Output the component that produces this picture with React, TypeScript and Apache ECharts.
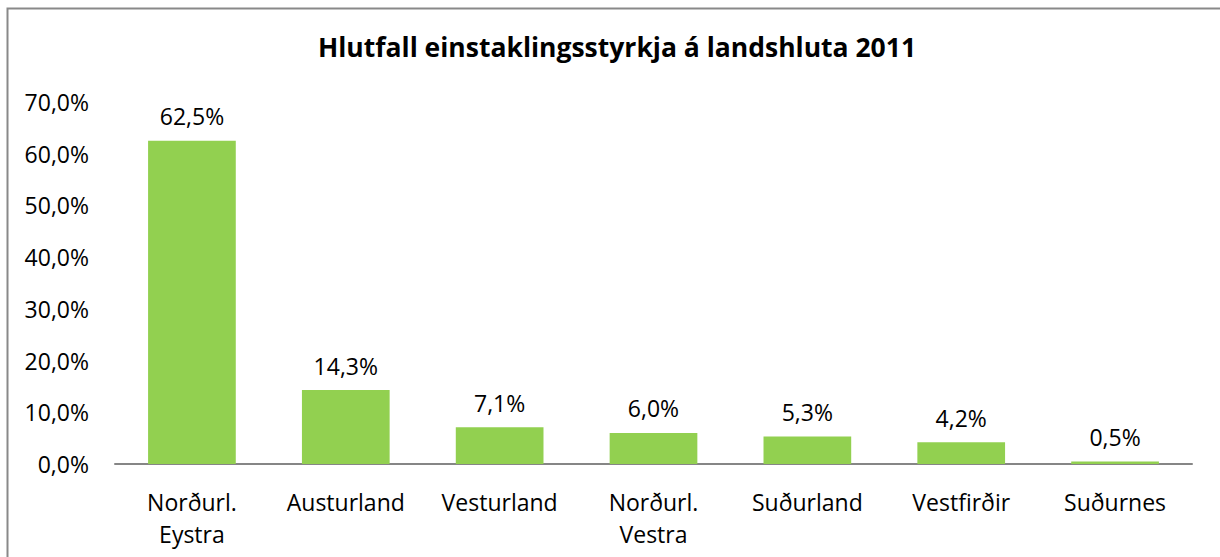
import React, { useEffect, useRef } from "react";
import * as echarts from "echarts";

const title = "Hlutfall einstaklingsstyrkja á landshluta 2011";
const categories = ["Norðurl.\nEystra", "Austurland", "Vesturland", "Norðurl.\nVestra", "Suðurland", "Vestfirðir", "Suðurnes"];
const values = [62.5, 14.3, 7.1, 6.0, 5.3, 4.2, 0.5];
const yTicks = [0, 10, 20, 30, 40, 50, 60, 70];

const fmt = (v: number) => v.toFixed(1).replace(".", ",") + "%";
const FONT = "'Open Sans', sans-serif";

export default function App() {
  const ref = useRef<HTMLDivElement>(null);
  useEffect(() => {
    document.body.style.margin = "0";
    const chart = echarts.init(ref.current!, null, { renderer: "svg" });
    chart.setOption({
      animation: false,
      backgroundColor: "#ffffff",
      title: {
        text: title,
        left: 313,
        top: 28,
        textStyle: { fontFamily: FONT, fontWeight: "bold", fontSize: 26.5, color: "#000" },
      },
      graphic: [
        {
          type: "rect",
          shape: { x: 7.5, y: 8.5, width: 1230, height: 560 },
          style: { fill: "none", stroke: "#898989", lineWidth: 2 },
          silent: true,
        },
      ],
      grid: { left: 115, right: 28, top: 102, bottom: 93, containLabel: false },
      xAxis: {
        type: "category",
        data: categories,
        axisLine: { show: true, lineStyle: { color: "#868686", width: 2 } },
        axisTick: { show: false },
        axisLabel: {
          fontFamily: FONT,
          fontSize: 23,
          color: "#000",
          margin: 22,
          lineHeight: 32,
          interval: 0,
        },
      },
      yAxis: {
        type: "value",
        min: yTicks[0],
        max: yTicks[yTicks.length - 1],
        interval: 10,
        splitLine: { show: false },
        axisLine: { show: false },
        axisTick: { show: false },
        axisLabel: {
          fontFamily: FONT,
          fontSize: 23,
          color: "#000",
          margin: 26,
          formatter: (v: number) => fmt(v),
        },
      },
      series: [
        {
          type: "bar",
          data: values,
          barWidth: "57%",
          itemStyle: { color: "#92D050" },
          label: {
            show: true,
            position: "top",
            distance: 13,
            fontFamily: FONT,
            fontSize: 23,
            color: "#000",
            formatter: (p: any) => fmt(p.value),
          },
        },
      ],
    });
    return () => chart.dispose();
  }, []);
  return <div ref={ref} style={{ width: 1220, height: 557 }} />;
}
